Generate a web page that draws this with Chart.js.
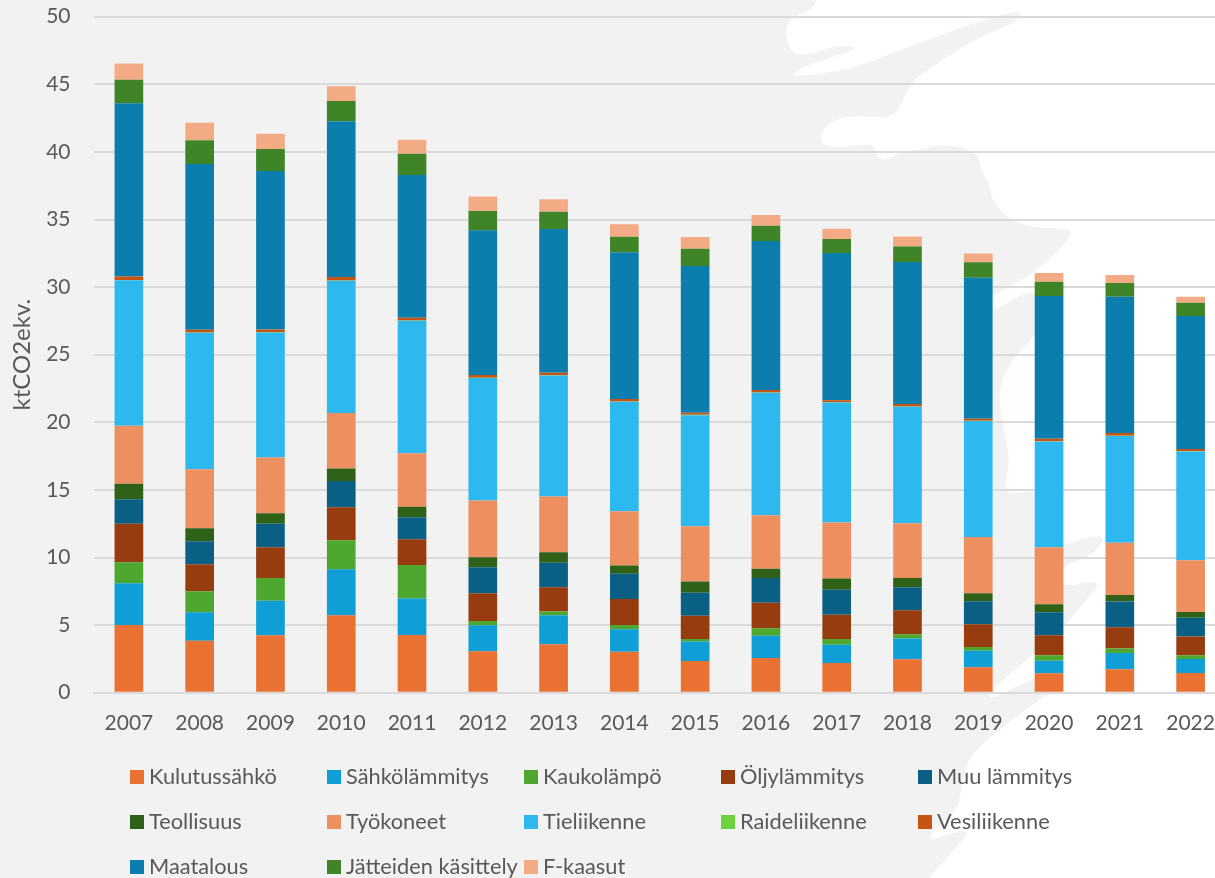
<!DOCTYPE html>
<html lang="fi">
<head>
<meta charset="utf-8">
<title>Päästöt sektoreittain</title>
<script src="https://cdn.jsdelivr.net/npm/chart.js@4"></script>
<style>
  html, body { margin: 0; height: 100%; background: #fff; overflow: hidden; }
  #land { position: absolute; left: 0; top: 0; }
  #chart { position: absolute; left: 0; top: 0; }
  #legend {
    position: absolute; left: 130px; top: 754px; margin: 0; padding: 0;
    list-style: none; display: grid;
    grid-template-columns: repeat(5, 197px); grid-auto-rows: 45px;
    font: 21.8px Lato, sans-serif; color: #595959;
  }
  #legend li { display: flex; align-items: center; height: 45px; white-space: nowrap; }
  #legend span { position: relative; top: -1px; }
  #legend i { display: block; width: 14px; height: 14px; margin-right: 5px; }
</style>
</head>
<body>
<svg id="land" width="1215" height="878"><path id="landPath" fill="#f2f2f2"/></svg>
<canvas id="chart" width="1226" height="878"></canvas>
<ul id="legend"></ul>
<script>
(function () {
  const years = ['2007','2008','2009','2010','2011','2012','2013','2014','2015','2016','2017','2018','2019','2020','2021','2022'];

  const kulutussahko = [5.0, 3.85, 4.25, 5.73, 4.27, 3.06, 3.58, 3.03, 2.35, 2.57, 2.2, 2.47, 1.88, 1.44, 1.73, 1.46];
  const sahkolammitys = [3.1, 2.1, 2.56, 3.4, 2.69, 1.93, 2.15, 1.66, 1.43, 1.65, 1.35, 1.53, 1.23, 0.93, 1.21, 1.03];
  const kaukolampo = [1.55, 1.55, 1.68, 2.15, 2.49, 0.32, 0.27, 0.32, 0.19, 0.55, 0.42, 0.32, 0.27, 0.4, 0.32, 0.28];
  const oljylammitys = [2.85, 2.0, 2.27, 2.44, 1.9, 2.05, 1.8, 1.92, 1.73, 1.89, 1.8, 1.78, 1.68, 1.48, 1.58, 1.38];
  const muuLammitys = [1.8, 1.7, 1.74, 1.93, 1.63, 1.92, 1.82, 1.86, 1.7, 1.83, 1.85, 1.7, 1.71, 1.7, 1.9, 1.4];
  const teollisuus = [1.15, 0.97, 0.78, 0.93, 0.77, 0.74, 0.77, 0.61, 0.82, 0.67, 0.82, 0.69, 0.59, 0.59, 0.49, 0.42];
  const tyokoneet = [4.3, 4.36, 4.11, 4.1, 3.97, 4.19, 4.12, 4.03, 4.1, 3.97, 4.14, 4.05, 4.16, 4.22, 3.87, 3.83];
  const tieliikenne = [10.75, 10.09, 9.26, 9.79, 9.79, 9.06, 8.95, 8.09, 8.21, 9.05, 8.89, 8.61, 8.57, 7.82, 7.88, 8.04];
  const raideliikenne = [0.02, 0.02, 0.02, 0.02, 0.02, 0.02, 0.02, 0.02, 0.02, 0.02, 0.02, 0.02, 0.02, 0.02, 0.02, 0.02];
  const vesiliikenne = [0.27, 0.21, 0.2, 0.26, 0.2, 0.2, 0.18, 0.18, 0.15, 0.18, 0.15, 0.18, 0.15, 0.18, 0.2, 0.16];
  const maatalous = [12.8, 12.25, 11.72, 11.51, 10.57, 10.71, 10.64, 10.85, 10.86, 11.03, 10.88, 10.51, 10.44, 10.56, 10.09, 9.84];
  const jatteet = [1.75, 1.76, 1.63, 1.51, 1.57, 1.43, 1.28, 1.16, 1.28, 1.13, 1.04, 1.15, 1.13, 1.06, 1.01, 0.99];
  const fKaasut = [1.2, 1.29, 1.13, 1.09, 1.03, 1.08, 0.91, 0.91, 0.87, 0.8, 0.76, 0.74, 0.66, 0.64, 0.6, 0.44];

  const seriesNames = ['Kulutussähkö', 'Sähkölämmitys', 'Kaukolämpö', 'Öljylämmitys', 'Muu lämmitys', 'Teollisuus', 'Työkoneet', 'Tieliikenne', 'Raideliikenne', 'Vesiliikenne', 'Maatalous', 'Jätteiden käsittely', 'F-kaasut'];
  const seriesValues = [kulutussahko, sahkolammitys, kaukolampo, oljylammitys, muuLammitys, teollisuus, tyokoneet, tieliikenne, raideliikenne, vesiliikenne, maatalous, jatteet, fKaasut];
  const seriesColors = ['#e97132', '#0f9ed5', '#4ea72e', '#963c0e', '#0a5f84', '#2f6119', '#ee8f5f', '#2db9f0', '#6cd33f', '#c85412', '#0b7ead', '#3f8426', '#f3ab86'];

  // Backdrop silhouette behind the chart, smoothed through midpoints
  const outline = [[817,0],[815,5],[807,12],[793,17],[785,28],[787,43],[793,53],[807,55],[823,50],[840,45],[860,48],[833,57],[807,65],[788,76],[817,75],[857,67],[893,53],[933,38],[977,22],[1022,9],[1018,20],[1007,26],[977,38],[947,57],[917,77],[907,90],[900,108],[890,117],[873,117],[850,116],[833,120],[820,133],[822,145],[837,148],[873,143],[877,157],[885,161],[900,153],[927,148],[943,144],[978,151],[982,173],[989,182],[992,200],[1007,218],[1033,228],[1060,228],[1075,232],[1053,257],[1023,280],[993,295],[985,303],[993,312],[1023,293],[1040,293],[1046,310],[1035,338],[1013,357],[997,390],[1005,437],[1010,460],[1005,483],[1007,494],[1020,493],[1035,490],[1050,525],[1063,547],[1080,539],[1105,535],[1100,547],[1087,557],[1063,566],[1055,578],[1063,587],[1105,579],[1080,607],[1064,627],[1035,653],[993,688],[986,702],[1035,677],[1055,678],[1064,682],[1040,700],[1005,725],[975,750],[964,770],[961,793],[957,810],[930,834],[932,841],[943,835],[972,829],[954,850],[929,878]];
  let d = 'M0 0L' + outline[0].join(' ');
  for (let i = 1; i < outline.length - 1; i++) {
    const p = outline[i], q = outline[i + 1];
    d += `Q${p[0]} ${p[1]} ${(p[0] + q[0]) / 2} ${(p[1] + q[1]) / 2}`;
  }
  d += 'L929 878L0 878Z';
  document.getElementById('landPath').setAttribute('d', d);

  const textColor = '#595959';
  const gridColor = '#dadada';
  const tickFont = { family: 'Lato, sans-serif', size: 21 };

  const chart = new Chart(document.getElementById('chart'), {
    type: 'bar',
    data: {
      labels: years,
      datasets: seriesNames.map((name, i) => ({
        label: name,
        data: seriesValues[i],
        backgroundColor: seriesColors[i],
        borderWidth: 0,
        categoryPercentage: 1,
        barPercentage: 0.405
      }))
    },
    options: {
      responsive: false,
      animation: false,
      layout: { padding: { top: 16.7, left: 0, right: 0, bottom: 0 } },
      plugins: { legend: { display: false }, tooltip: { enabled: false } },
      scales: {
        x: {
          stacked: true,
          grid: { display: false },
          border: { color: gridColor, width: 2 },
          ticks: { color: textColor, font: tickFont, padding: 10, maxRotation: 0, autoSkip: false },
          // fixed plot box: the last category runs past the page edge
          afterFit: (s) => { s.height = 185.3; s.paddingLeft = 0; s.paddingRight = 0; }
        },
        y: {
          stacked: true,
          min: 0,
          max: 50,
          grid: { color: gridColor, lineWidth: 2, drawTicks: false },
          border: { display: false },
          ticks: { stepSize: 5, color: textColor, font: tickFont, padding: 23 },
          title: {
            display: true,
            text: 'ktCO2ekv.',
            color: textColor,
            font: { family: 'Lato, sans-serif', size: 24 },
            padding: { top: 8, bottom: 0 }
          },
          afterFit: (s) => { s.width = 93.5; s.paddingTop = 0; s.paddingBottom = 0; }
        }
      }
    }
  });

  // Legend built from the chart's own label items
  const legend = document.getElementById('legend');
  Chart.defaults.plugins.legend.labels.generateLabels(chart).forEach((item) => {
    const li = document.createElement('li');
    const swatch = document.createElement('i');
    const label = document.createElement('span');
    swatch.style.background = item.fillStyle;
    label.textContent = item.text;
    li.append(swatch, label);
    legend.append(li);
  });
})();
</script>
</body>
</html>
